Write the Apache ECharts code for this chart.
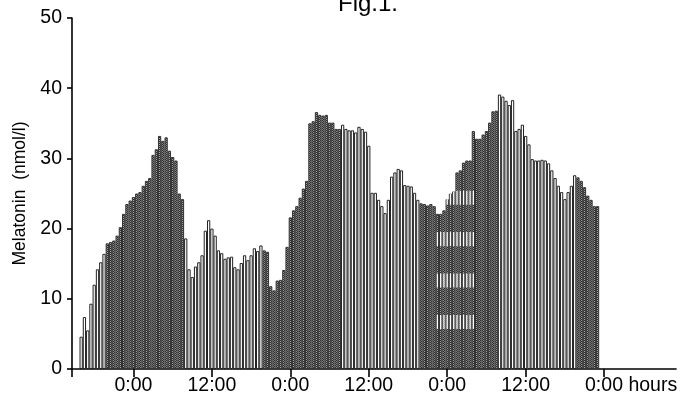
<!DOCTYPE html>
<html>
<head>
<meta charset="utf-8">
<script src="https://cdn.jsdelivr.net/npm/echarts@6/dist/echarts.min.js"></script>
<style>
html, body { margin: 0; padding: 0; background: #fff; }
#chart { width: 696px; height: 398px; }
</style>
</head>
<body>
<div id="chart"></div>
<script>
// half-hourly melatonin samples, time in hours from the first midnight
const firstSample = -8      // 16:00 on day 1
const sampleStep = 0.5
const darkHours = [20, 8]   // samples from 20:00 to 7:30 are drawn hatched

const evening0 = [4.6, 7.4, 5.5, 9.3, 12.0, 14.2, 15.2, 16.4]
const night1 = [17.9, 18.1, 18.3, 19.0, 20.2, 22.1, 23.5, 24.0, 24.5, 25.0, 25.2, 26.1,
    26.8, 27.2, 30.5, 31.3, 33.2, 32.5, 33.0, 31.1, 30.2, 29.7, 25.0, 24.2]
const day1 = [18.6, 14.2, 13.1, 14.6, 15.2, 16.2, 19.7, 21.2, 20.0, 19.0, 16.9, 16.5,
    15.7, 15.9, 16.0, 14.5, 14.2, 15.1, 16.2, 15.5, 16.2, 17.2, 16.8, 17.6]
const night2 = [16.9, 16.7, 11.8, 11.2, 12.6, 12.7, 14.1, 17.4, 21.6, 22.6, 23.2, 24.4,
    25.7, 26.8, 35.0, 35.3, 36.6, 36.2, 36.1, 36.2, 35.1, 35.1, 34.2, 34.2]
const day2 = [34.8, 34.2, 34.0, 34.0, 33.7, 34.5, 34.2, 33.8, 31.8, 25.1, 25.1, 24.1,
    23.2, 22.2, 24.1, 27.4, 28.0, 28.5, 28.3, 26.2, 26.1, 26.0, 25.1, 24.1]
const night3 = [23.6, 23.5, 23.3, 23.5, 23.2, 22.1, 22.1, 22.6, 24.2, 25.0, 25.3, 28.0,
    28.3, 29.4, 29.7, 29.7, 33.9, 32.8, 32.8, 33.4, 33.9, 35.1, 36.7, 36.8]
const day3 = [39.1, 38.8, 38.2, 37.6, 38.3, 33.9, 34.2, 34.8, 33.2, 32.0, 29.9, 29.7,
    29.7, 29.8, 29.7, 29.3, 28.3, 27.2, 26.1, 25.2, 24.2, 25.2, 26.1, 27.6]
const night4 = [27.3, 26.8, 25.9, 24.7, 24.1, 23.2, 23.2]

// white bands inside the third night (22:30 - 4:00)
const bandTimes = [46.5, 52]
const bandLevels = [[5.7, 7.7], [11.6, 13.6], [17.5, 19.5], [23.4, 25.4]]

const tickHours = [-9.4, 0, 12, 24, 36, 48, 60, 72]
const labelHours = [0, 12, 24, 36, 48, 60, 72]
const tickLabels = ['0:00', '12:00', '0:00', '12:00', '0:00', '12:00', '0:00 hours']

const values = [].concat(evening0, night1, day1, night2, day2, night3, day3, night4)

// fine checker texture for the dark periods
const makeHatch = () => {
    let c = document.createElement('canvas')
    c.width = 2
    c.height = 2
    let ctx = c.getContext('2d')
    ctx.fillStyle = '#2c2c2c'
    ctx.fillRect(0, 0, 2, 2)
    ctx.fillStyle = '#a8a8a8'
    ctx.fillRect(1, 0, 1, 1)
    ctx.fillRect(0, 1, 1, 1)
    return { image: c, repeat: 'repeat' }
}
const hatch = makeHatch()

const isDark = (t) => {
    let h = ((t % 24) + 24) % 24
    return h >= darkHours[0] || h < darkHours[1]
}

let barData = values.map((v, i) => {
    let t = firstSample + i * sampleStep
    let dark = isDark(t)
    return {
        value: [t, v],
        itemStyle: { color: dark ? hatch : '#fff', borderColor: dark ? '#333' : '#222' }
    }
})

let bandData = []
values.forEach((v, i) => {
    let t = firstSample + i * sampleStep
    if (t < bandTimes[0] || t > bandTimes[1]) return
    bandLevels.forEach(b => {
        if (v > b[0]) bandData.push([t, b[0], Math.min(b[1], v)])
    })
})

const font = 'Liberation Sans, Arial, sans-serif'

let chart = echarts.init(document.getElementById('chart'), null, { renderer: 'canvas' })
chart.setOption({
    animation: false,
    title: {
        text: 'Fig.1.',
        left: 368,
        top: -8,
        padding: 0,
        textAlign: 'center',
        textStyle: { fontFamily: font, fontSize: 24, fontWeight: 'normal', color: '#000' }
    },
    grid: { left: 72, right: 20, top: 18, bottom: 29, containLabel: false, outerBoundsMode: 'none' },
    xAxis: {
        type: 'value',
        min: -9.4,
        max: 83,
        splitLine: { show: false },
        axisLine: { show: true, onZero: false, lineStyle: { color: '#000', width: 1.6 } },
        axisTick: { show: true, length: 8, lineStyle: { color: '#000', width: 1.6 }, customValues: tickHours },
        axisLabel: {
            customValues: labelHours,
            margin: 7,
            fontFamily: font,
            fontSize: 19.5,
            color: '#000',
            formatter: (val) => {
                let k = labelHours.indexOf(val)
                if (k === labelHours.length - 1) return '{last|' + tickLabels[k] + '}'
                return tickLabels[k]
            },
            rich: {
                last: { fontFamily: font, fontSize: 19.5, color: '#000', padding: [0, 0, 0, 54] }
            }
        }
    },
    yAxis: {
        type: 'value',
        min: 0,
        max: 50,
        interval: 10,
        name: 'Melatonin  (nmol/l)',
        nameLocation: 'middle',
        nameGap: 42,
        nameTextStyle: { fontFamily: font, fontSize: 17.5, color: '#000' },
        splitLine: { show: false },
        axisLine: { show: true, onZero: false, lineStyle: { color: '#000', width: 1.6 } },
        axisTick: { show: true, length: 5, lineStyle: { color: '#000', width: 1.6 } },
        axisLabel: { margin: 10, fontFamily: font, fontSize: 19.5, color: '#000' }
    },
    series: [
        {
            type: 'bar',
            data: barData,
            barWidth: '100%',
            itemStyle: { borderWidth: 1 },
            z: 2
        },
        {
            type: 'custom',
            data: bandData,
            encode: { x: 0, y: [1, 2] },
            z: 3,
            renderItem: (params, api) => {
                let t = api.value(0)
                let top = api.coord([t, api.value(2)])
                let bottom = api.coord([t, api.value(1)])
                let w = api.size([sampleStep, 0])[0]
                return {
                    type: 'rect',
                    shape: { x: top[0] - w / 2 + 1, y: top[1], width: w - 2, height: bottom[1] - top[1] },
                    style: { fill: '#fff' }
                }
            }
        }
    ]
})
</script>
</body>
</html>
